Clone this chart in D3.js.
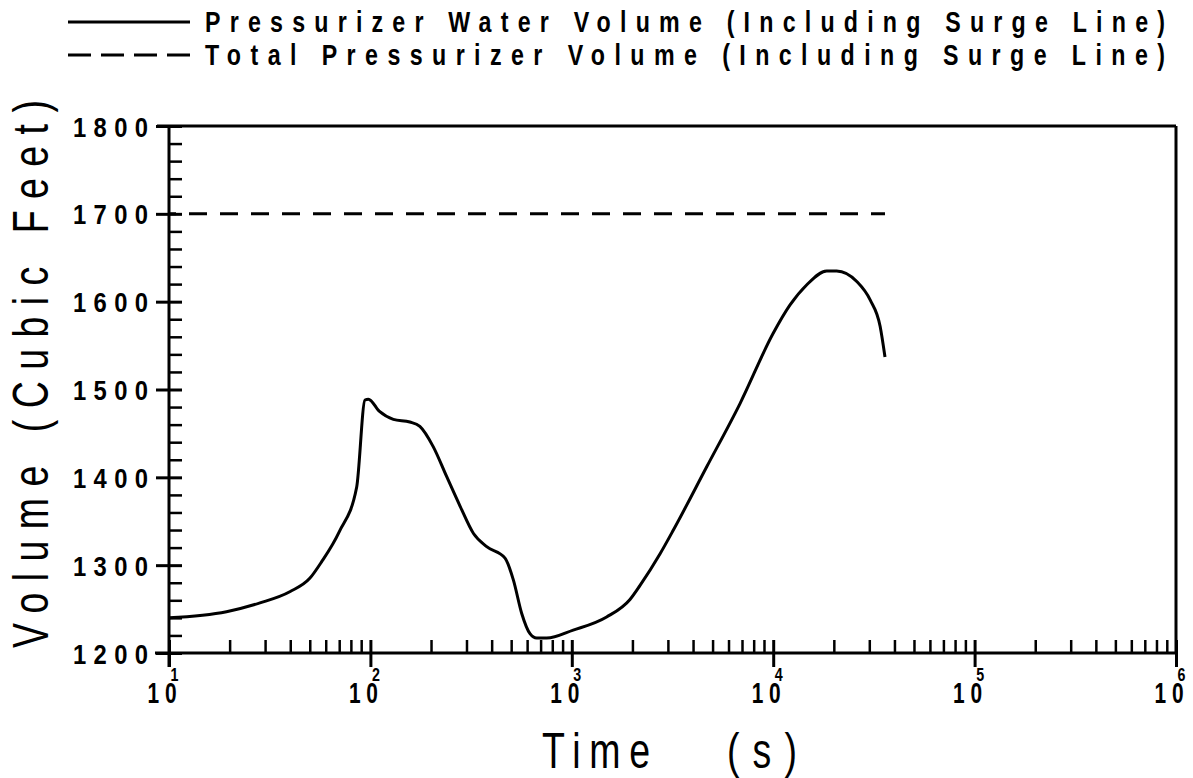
<!DOCTYPE html>
<html>
<head>
<meta charset="utf-8">
<script src="https://cdn.jsdelivr.net/npm/d3@7"></script>
<style>
  html, body { margin: 0; padding: 0; background: #fff; }
  svg { display: block; }
  text { font-family: "Liberation Sans", Arial, sans-serif; fill: #000; }
</style>
</head>
<body>
<svg id="chart" width="1193" height="778"></svg>
<script>
// Pressurizer water volume history (time in s, volume in ft^3)
const waterTime = [10, 19.3, 28.3, 40, 50, 57.3, 70, 85.5, 94, 97.7, 111, 130, 157, 176, 205, 239, 279, 325, 378, 466, 513, 564, 620, 669, 750, 1016, 1489, 1945, 2182, 2744, 3194, 4677, 6843, 10000, 12100, 14650, 18440, 20660, 26000, 30300, 33950, 35900];
const waterVolume = [1240, 1247, 1257, 1270, 1285, 1304, 1338, 1389, 1488, 1489, 1475, 1466, 1463, 1458, 1435, 1401, 1367, 1336, 1321, 1308, 1283, 1245, 1222, 1217, 1217, 1226, 1241, 1261, 1277, 1313, 1340, 1412, 1484, 1564, 1596, 1619, 1635, 1635, 1623, 1602, 1572, 1537];

// Total pressurizer volume (constant)
const totalTime = [10, 35900];
const totalVolume = [1700, 1700];

// Axis ticks and labels
const xDecades = [1e1, 1e2, 1e3, 1e4, 1e5, 1e6];
const xExponents = ["1", "2", "3", "4", "5", "6"];
const yMajorTicks = [1200, 1300, 1400, 1500, 1600, 1700, 1800];
const yTickLabels = ["1200", "1300", "1400", "1500", "1600", "1700", "1800"];

const legendLabels = [
  "Pressurizer Water Volume (Including Surge Line)",
  "Total Pressurizer Volume (Including Surge Line)"
];
const xTitleWords = ["Time", "(s)"];
const yTitle = "Volume  (Cubic Feet)";

const svg = d3.select("#chart");
const plotLeft = 169, plotRight = 1176, plotTop = 126, plotBottom = 653;

const x = d3.scaleLog().domain([1e1, 1e6]).range([plotLeft, plotRight]);
const y = d3.scaleLinear().domain([1200, 1800]).range([plotBottom, plotTop]);

const xMinor = [];
xDecades.slice(0, -1).forEach(d => d3.range(2, 10).forEach(k => xMinor.push(d * k)));
const yMinor = d3.range(1200, 1801, 20).filter(v => v % 100 !== 0);

// narrow, widely spaced lettering: glyphs squeezed horizontally, spacing stretched to fill a width
function plotterText(parent, str, px, py, width, size, opts = {}) {
  const sx = opts.sx || 0.7;
  const g = parent.append("g")
    .attr("transform", `translate(${px},${py})${opts.rotate ? ` rotate(${opts.rotate})` : ""} scale(${sx},1)`);
  const t = g.append("text").text(str)
    .attr("text-anchor", opts.anchor || "start")
    .style("font-size", size + "px")
    .style("font-weight", opts.weight || "bold");
  if (width) t.attr("textLength", width / sx).attr("lengthAdjust", "spacing");
  return t;
}

// frame: top and right edges
svg.append("line").attr("x1", 157).attr("x2", plotRight).attr("y1", plotTop).attr("y2", plotTop)
  .attr("stroke", "#000").attr("stroke-width", 3);
svg.append("line").attr("x1", plotRight).attr("x2", plotRight).attr("y1", plotTop).attr("y2", plotBottom)
  .attr("stroke", "#000").attr("stroke-width", 3);

// x axis: minor ticks inside, major ticks crossing the axis
const gxMinor = svg.append("g").attr("transform", `translate(0,${plotBottom})`)
  .call(d3.axisBottom(x).tickValues(xMinor).tickSize(-13).tickFormat(""));
gxMinor.select(".domain").remove();
gxMinor.selectAll(".tick line").attr("stroke-width", 2.5);

const gx = svg.append("g").attr("transform", `translate(0,${plotBottom})`)
  .call(d3.axisBottom(x).tickValues(xDecades).tickSize(14).tickFormat(""));
gx.select(".domain").remove();
gx.selectAll(".tick line").attr("y1", -13).attr("stroke-width", 3);
svg.append("line").attr("x1", 155).attr("x2", plotRight).attr("y1", plotBottom).attr("y2", plotBottom)
  .attr("stroke", "#000").attr("stroke-width", 3);

gx.selectAll(".tick").each(function (d, i) {
  const t = d3.select(this);
  plotterText(t, "10", -22, 50, 29, 29, { sx: 0.72 });
  plotterText(t, xExponents[i], 5, 28, null, 19, { sx: 0.75, anchor: "middle" });
});

// y axis
const gyMinor = svg.append("g").attr("transform", `translate(${plotLeft},0)`)
  .call(d3.axisLeft(y).tickValues(yMinor).tickSize(-13).tickFormat(""));
gyMinor.select(".domain").remove();
gyMinor.selectAll(".tick line").attr("stroke-width", 2.5);

const gy = svg.append("g").attr("transform", `translate(${plotLeft},0)`)
  .call(d3.axisLeft(y).tickValues(yMajorTicks).tickSize(13).tickFormat(""));
gy.select(".domain").remove();
gy.selectAll(".tick line").attr("x1", 13).attr("stroke-width", 3);
gy.selectAll(".tick").each(function (d, i) {
  plotterText(d3.select(this), yTickLabels[i], -96, 10, 75, 28, { sx: 0.85 });
});
svg.append("line").attr("x1", plotLeft).attr("x2", plotLeft).attr("y1", plotTop).attr("y2", plotBottom + 14)
  .attr("stroke", "#000").attr("stroke-width", 3);

// curves
const line = d3.line()
  .x(d => x(d[0])).y(d => y(d[1]))
  .curve(d3.curveMonotoneX);

svg.append("path")
  .datum(totalTime.map((t, i) => [t, totalVolume[i]]))
  .attr("d", line)
  .attr("fill", "none").attr("stroke", "#000").attr("stroke-width", 3)
  .attr("stroke-dasharray", "18,13").attr("stroke-dashoffset", 11);

svg.append("path")
  .datum(waterTime.map((t, i) => [t, waterVolume[i]]))
  .attr("d", line)
  .attr("fill", "none").attr("stroke", "#000").attr("stroke-width", 3)
  .attr("stroke-linejoin", "round");

// axis titles
plotterText(svg, xTitleWords[0], 542, 768, 108, 50, { sx: 0.75, weight: "normal" });
plotterText(svg, xTitleWords[1], 727, 768, 70, 50, { sx: 0.75, weight: "normal" });
plotterText(svg, yTitle, 48, 648, 548, 50, { sx: 0.75, weight: "normal", rotate: -90 });

// legend
const legend = svg.append("g");
legendLabels.forEach((label, i) => {
  const ly = 22 + i * 33;
  legend.append("line")
    .attr("x1", 68).attr("x2", 190).attr("y1", ly).attr("y2", ly)
    .attr("stroke", "#000").attr("stroke-width", 3)
    .attr("stroke-dasharray", i === 1 ? "23,10" : null);
  plotterText(legend, label, 205, ly + 10, 960, 29, { sx: 0.8 });
});
</script>
</body>
</html>
